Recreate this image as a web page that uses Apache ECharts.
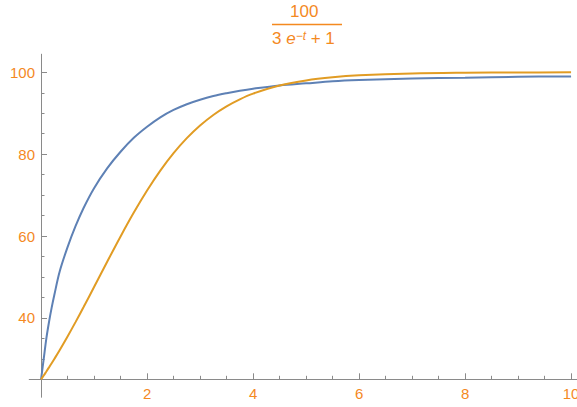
<!DOCTYPE html>
<html>
<head>
<meta charset="utf-8">
<script src="https://cdn.jsdelivr.net/npm/echarts@6/dist/echarts.min.js"></script>
<style>
html,body{margin:0;padding:0;background:#fff;overflow:hidden;}
#chart{width:577px;height:407px;}
</style>
</head>
<body>
<div id="chart"></div>
<script>
// ---- data ----
const tValues = [0, 0.05, 0.1, 0.15, 0.2, 0.25, 0.35, 0.5, 0.65, 0.8, 1, 1.25, 1.5, 1.75, 2, 2.25, 2.5, 2.75, 3, 3.25, 3.5, 3.75, 4, 4.5, 5, 5.5, 6, 7, 8, 9, 10];
const blueValues = [25, 30, 35, 39, 42.5, 45.6, 51.3, 57.3, 62.4, 66.8, 71.7, 76.6, 80.6, 84, 86.7, 89.0, 90.8, 92.2, 93.3, 94.2, 94.9, 95.5, 96.0, 96.8, 97.3, 97.8, 98.1, 98.5, 98.7, 98.9, 99.0];
const orangeValues = [25, 25.93, 26.92, 27.92, 28.93, 29.97, 32.11, 35.47, 38.97, 42.59, 47.54, 53.78, 59.90, 65.73, 71.12, 75.98, 80.24, 83.91, 87.00, 89.58, 91.69, 93.41, 94.79, 96.77, 98.02, 98.79, 99.26, 99.73, 99.90, 99.96, 99.99];
const xMajorTicks = [2, 4, 6, 8, 10];
const xMinorTicks = [0.5, 1, 1.5, 2.5, 3, 3.5, 4.5, 5, 5.5, 6.5, 7, 7.5, 8.5, 9, 9.5];
const yMajorTicks = [40, 60, 80, 100];
const yMinorTicks = [30, 35, 45, 50, 55, 65, 70, 75, 85, 90, 95];
const titleNumerator = '100';

const blueData = tValues.map((t, i) => [t, blueValues[i]]);
const orangeData = tValues.map((t, i) => [t, orangeValues[i]]);

const AXIS = '#8a8a8a';
const LABEL = '#f4891f';
const FONT = '"Liberation Sans", Arial, sans-serif';

const X_MIN = -0.222, X_MAX = 10.112;
const Y_MIN = 20.68, Y_MAX = 104.4;

const chart = echarts.init(document.getElementById('chart'), null, {renderer: 'svg'});

function xAxisDef(ticks, len, labels) {
  return {
    type: 'value', min: X_MIN, max: X_MAX, position: 'bottom', offset: -17.7,
    axisLine: {show: true, onZero: false, lineStyle: {color: AXIS, width: 1}},
    axisTick: {show: true, inside: true, length: len, customValues: ticks, lineStyle: {color: AXIS, width: 1}},
    axisLabel: labels ? {show: true, customValues: ticks, margin: 7, color: LABEL, fontSize: 15, fontFamily: FONT} : {show: false},
    splitLine: {show: false}
  };
}
function yAxisDef(ticks, len, labels) {
  return {
    type: 'value', min: Y_MIN, max: Y_MAX, position: 'left', offset: -11.7,
    axisLine: {show: true, onZero: false, lineStyle: {color: AXIS, width: 1}},
    axisTick: {show: true, inside: true, length: len, customValues: ticks, lineStyle: {color: AXIS, width: 1}},
    axisLabel: labels ? {show: true, customValues: ticks, margin: 6, color: LABEL, fontSize: 15, fontFamily: FONT} : {show: false},
    splitLine: {show: false}
  };
}

chart.setOption({
  animation: false,
  backgroundColor: '#ffffff',
  grid: {left: 29.3, right: 0, top: 54.3, bottom: 10, containLabel: false, outerBoundsMode: 'none'},
  xAxis: [xAxisDef(xMajorTicks, 6, true), xAxisDef(xMinorTicks, 3.5, false)],
  yAxis: [yAxisDef(yMajorTicks, 6, true), yAxisDef(yMinorTicks, 3.5, false)],
  series: [
    {type: 'line', data: blueData, xAxisIndex: 0, yAxisIndex: 0, smooth: 0.35, symbol: 'none',
     lineStyle: {color: '#5e81b5', width: 2}},
    {type: 'line', data: orangeData, xAxisIndex: 0, yAxisIndex: 0, smooth: 0.35, symbol: 'none',
     lineStyle: {color: '#e19c24', width: 2}}
  ],
  graphic: [
    {type: 'text', left: 290, top: 3, style: {text: titleNumerator, fill: LABEL, font: '17px ' + FONT}},
    {type: 'line', shape: {x1: 272, y1: 24.5, x2: 342, y2: 24.5}, style: {stroke: LABEL, lineWidth: 1.3}},
    {type: 'text', left: 272, top: 30, style: {
      text: '{n|3 }{i|e}{s|−t}{n| + 1}', fill: LABEL,
      rich: {
        n: {fontSize: 17, fontFamily: FONT, fill: LABEL, verticalAlign: 'bottom'},
        i: {fontSize: 17, fontFamily: FONT, fontStyle: 'italic', fill: LABEL, verticalAlign: 'bottom'},
        s: {fontSize: 12, fontFamily: FONT, fontStyle: 'italic', fill: LABEL, verticalAlign: 'top'}
      }
    }}
  ]
});
</script>
</body>
</html>
